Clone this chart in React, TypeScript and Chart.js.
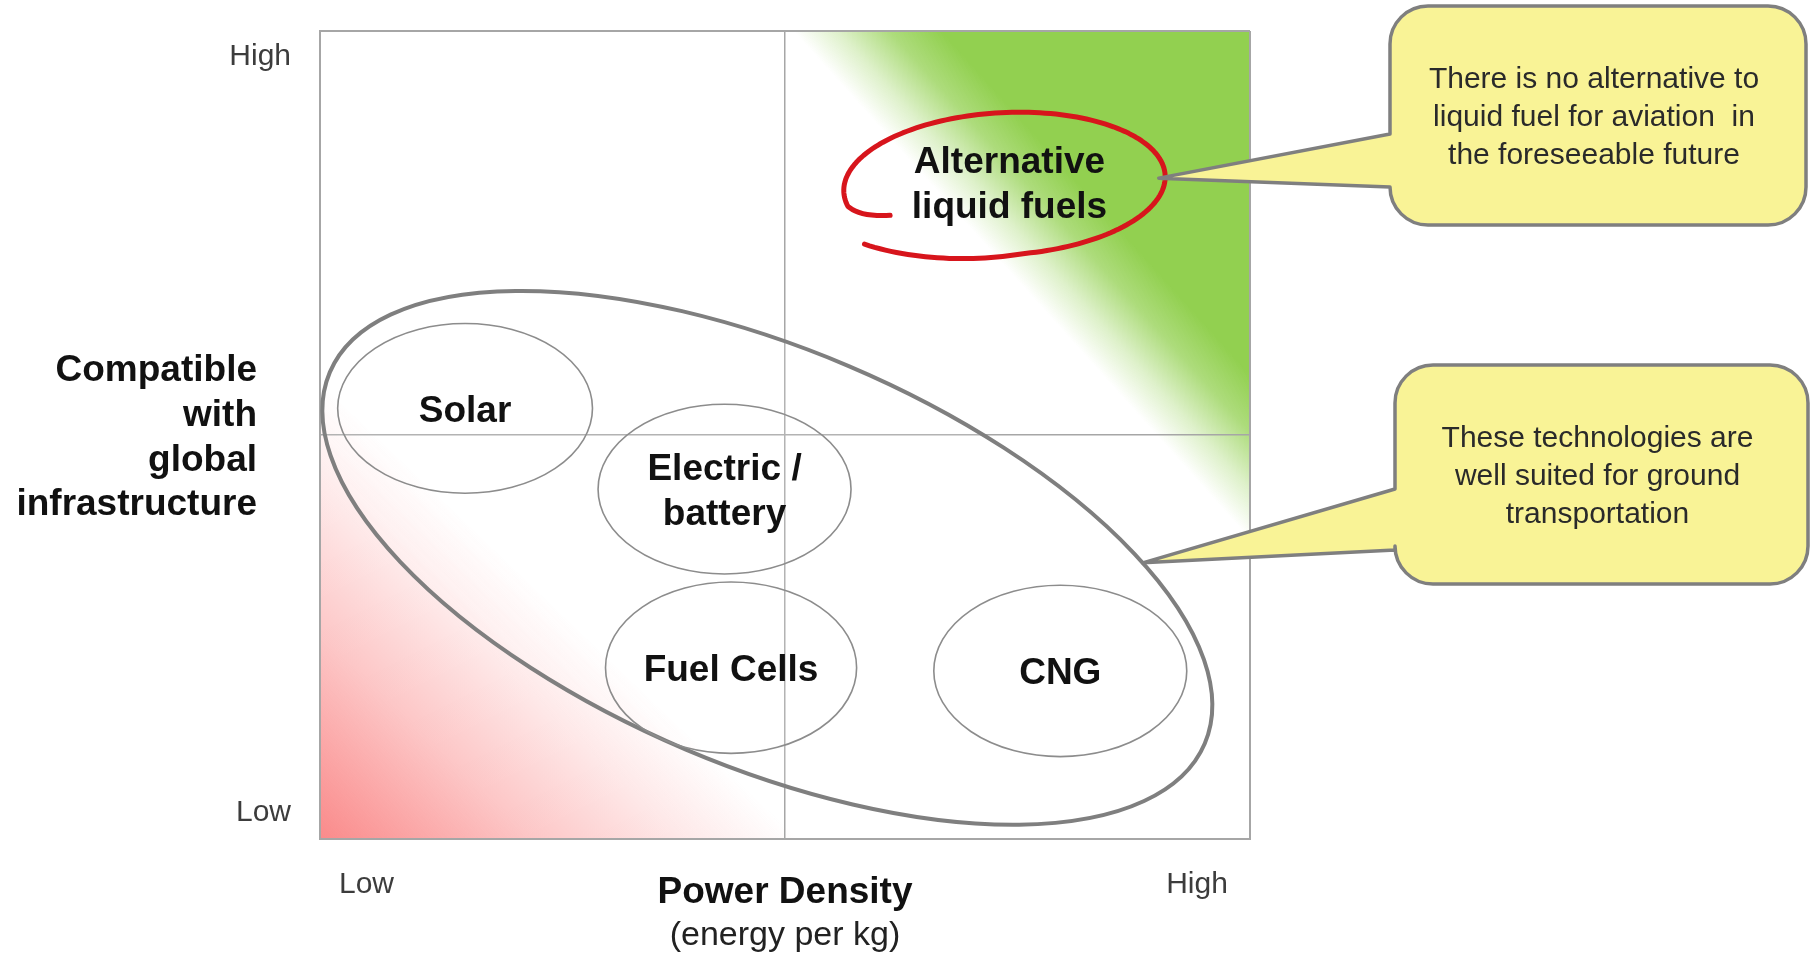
import React, { useEffect, useRef } from "react";
import { Chart, registerables } from "chart.js";

Chart.register(...registerables);

// ---------------- data ----------------
const X_TICK_VALUES = [0, 0.5, 5, 9.43, 10];
const X_TICK_LABELS = ["", "Low", "", "High", ""];
const Y_TICK_VALUES = [0, 0.32, 5, 9.68, 10];
const Y_TICK_LABELS = ["", "Low", "", "High", ""];
const QUADRANT_LINES = [0, 5, 10];

const X_TITLE = "Power Density";
const X_SUBTITLE = "(energy per kg)";
const Y_TITLE = ["Compatible", "with", "global", "infrastructure"];

const TECH_LABELS = [["Solar"], ["Electric /", "battery"], ["Fuel Cells"], ["CNG"]];
const TECH_X = [1.56, 4.35, 4.42, 7.96];
const TECH_Y = [5.33, 4.33, 2.12, 2.08];
const TECH_RX = [1.37, 1.36, 1.35, 1.36];
const TECH_RY = [1.05, 1.05, 1.06, 1.06];

const FOCUS_LABEL = ["Alternative", "liquid fuels"];
const FOCUS_X = [7.36];
const FOCUS_Y = [8.11];
const FOCUS_RX = [1.73];
const FOCUS_RY = [0.88];

const GROUP_X = [4.81];
const GROUP_Y = [3.48];
const GROUP_A = [5.11];
const GROUP_B = [2.24];
const GROUP_TILT_DEG = [23];

const CALLOUT_TEXTS = [
  ["There is no alternative to", "liquid fuel for aviation  in", "the foreseeable future"],
  ["These technologies are", "well suited for ground", "transportation"],
];

// ---------------- styles / layout ----------------
const FONT = '"Liberation Sans", Arial, Helvetica, sans-serif';
const BG = {
  pink: { from: [0, 5.68], to: [-2.47, 2.71], rgb: "250,138,138" },
  green: { from: [5.09, 10.0], to: [5.97, 10.91], rgb: "146,208,80" },
};
const CALLOUT_BOXES = [
  { left: 1390, top: 6, w: 416, h: 219, r: 38, baseTop: 134, baseBottom: 187 },
  { left: 1395, top: 365, w: 413, h: 219, r: 38, baseTop: 489, baseBottom: 550 },
];

function drawLabel(ctx: CanvasRenderingContext2D, lines: string[], x: number, cy: number, size: number, weight: string, color: string, lineH: number, align: CanvasTextAlign = "center") {
  ctx.save();
  ctx.font = `${weight} ${size}px ${FONT}`;
  ctx.fillStyle = color;
  ctx.textAlign = align;
  ctx.textBaseline = "alphabetic";
  const n = lines.length;
  lines.forEach((s, i) => {
    const c = cy + (i - (n - 1) / 2) * lineH;
    ctx.fillText(s, x, c + size * 0.358);
  });
  ctx.restore();
}

const artPlugin = {
  id: "quadrantArt",
  beforeDraw(chart: any) {
    const { ctx, chartArea: ca, scales } = chart;
    const xs = scales.x, ys = scales.y;
    ctx.save();
    ctx.beginPath();
    ctx.rect(ca.left, ca.top, ca.right - ca.left, ca.bottom - ca.top);
    ctx.clip();
    // pink gradient (low / low corner)
    const p = BG.pink;
    const gp = ctx.createLinearGradient(
      xs.getPixelForValue(p.from[0]), ys.getPixelForValue(p.from[1]),
      xs.getPixelForValue(p.to[0]), ys.getPixelForValue(p.to[1]));
    gp.addColorStop(0, `rgba(${p.rgb},0)`);
    gp.addColorStop(0.25, `rgba(${p.rgb},0.2)`);
    gp.addColorStop(0.55, `rgba(${p.rgb},0.48)`);
    gp.addColorStop(1, `rgba(${p.rgb},1)`);
    ctx.fillStyle = gp;
    ctx.fillRect(ca.left, ca.top, ca.right - ca.left, ca.bottom - ca.top);
    // green gradient (high / high corner)
    const g = BG.green;
    const gg = ctx.createLinearGradient(
      xs.getPixelForValue(g.from[0]), ys.getPixelForValue(g.from[1]),
      xs.getPixelForValue(g.to[0]), ys.getPixelForValue(g.to[1]));
    gg.addColorStop(0, `rgba(${g.rgb},0)`);
    gg.addColorStop(0.3, `rgba(${g.rgb},0.3)`);
    gg.addColorStop(0.65, `rgba(${g.rgb},0.75)`);
    gg.addColorStop(1, `rgba(${g.rgb},1)`);
    ctx.fillStyle = gg;
    const mid = xs.getPixelForValue(5);
    ctx.fillRect(mid, ca.top, ca.right - mid, ca.bottom - ca.top);
    ctx.restore();
  },
  afterDatasetsDraw(chart: any) {
    const { ctx, scales } = chart;
    const xs = scales.x, ys = scales.y;
    const ux = xs.getPixelForValue(1) - xs.getPixelForValue(0);
    const uy = ys.getPixelForValue(0) - ys.getPixelForValue(1);

    // big group ellipse
    const gm = chart.getDatasetMeta(2).data[0];
    ctx.save();
    ctx.beginPath();
    ctx.ellipse(gm.x, gm.y, GROUP_A[0] * ux, GROUP_B[0] * ux, (GROUP_TILT_DEG[0] * Math.PI) / 180, 0, Math.PI * 2);
    ctx.fillStyle = "rgba(255,255,255,0.15)";
    ctx.fill();
    ctx.strokeStyle = "#7f7f7f";
    ctx.lineWidth = 4;
    ctx.stroke();
    ctx.restore();

    // technology ellipses
    const tm = chart.getDatasetMeta(0).data;
    tm.forEach((el: any, i: number) => {
      ctx.save();
      ctx.beginPath();
      ctx.ellipse(el.x, el.y, TECH_RX[i] * ux, TECH_RY[i] * uy, 0, 0, Math.PI * 2);
      ctx.strokeStyle = "#8c8c8c";
      ctx.lineWidth = 1.6;
      ctx.stroke();
      ctx.restore();
      drawLabel(ctx, TECH_LABELS[i], el.x, el.y, 37, "bold", "#111", 45);
    });

    // focus: hand drawn red loop
    const fm = chart.getDatasetMeta(1).data[0];
    const rx = FOCUS_RX[0] * ux, ry = FOCUS_RY[0] * uy;
    ctx.save();
    ctx.translate(fm.x, fm.y);
    ctx.rotate((-3 * Math.PI) / 180);
    ctx.beginPath();
    ctx.moveTo(-0.72 * rx, 0.36 * ry);
    ctx.quadraticCurveTo(-0.9 * rx, 0.36 * ry, -0.97 * rx, 0.22 * ry);
    for (let deg = 168; deg <= 500; deg += 2) {
      const f = deg > 445 ? 1 + ((deg - 445) / 55) * 0.16 : 1;
      const a = (deg * Math.PI) / 180;
      ctx.lineTo(rx * f * Math.cos(a), ry * f * Math.sin(a));
    }
    ctx.strokeStyle = "#d7151c";
    ctx.lineWidth = 5;
    ctx.lineCap = "round";
    ctx.lineJoin = "round";
    ctx.stroke();
    ctx.restore();
    drawLabel(ctx, FOCUS_LABEL, fm.x + 5, fm.y - 1, 37, "bold", "#111", 45);
  },
  afterDraw(chart: any) {
    const { ctx, chartArea: ca, scales } = chart;
    const xs = scales.x, ys = scales.y;
    const ux = xs.getPixelForValue(1) - xs.getPixelForValue(0);
    const uy = ys.getPixelForValue(0) - ys.getPixelForValue(1);
    const cxMid = (ca.left + ca.right) / 2;
    const cyMid = (ca.top + ca.bottom) / 2;

    // axis titles
    drawLabel(ctx, [X_TITLE], cxMid, ca.bottom + 51, 37, "bold", "#111", 45);
    drawLabel(ctx, [X_SUBTITLE], cxMid, ca.bottom + 94, 34, "normal", "#222", 45);
    drawLabel(ctx, Y_TITLE, ca.left - 63, cyMid, 37, "bold", "#111", 44.7, "right");

    // anchors
    const fm = chart.getDatasetMeta(1).data[0];
    const fa = (-3 * Math.PI) / 180;
    const tip1 = { x: fm.x + FOCUS_RX[0] * ux * 0.96 * Math.cos(fa), y: fm.y + FOCUS_RY[0] * uy * 0.96 * Math.sin(fa) - 2 };
    const gm = chart.getDatasetMeta(2).data[0];
    const th = (GROUP_TILT_DEG[0] * Math.PI) / 180;
    const t = (-43 * Math.PI) / 180;
    const ga = GROUP_A[0] * ux, gb = GROUP_B[0] * ux;
    const xp = ga * Math.cos(t), yp = gb * Math.sin(t);
    const tip2 = { x: gm.x + xp * Math.cos(th) - yp * Math.sin(th), y: gm.y + xp * Math.sin(th) + yp * Math.cos(th) };
    const tips = [tip1, tip2];

    CALLOUT_BOXES.forEach((b, i) => {
      const { left: x, top: y, w, h, r } = b;
      const tip = tips[i];
      ctx.save();
      ctx.beginPath();
      ctx.moveTo(x + r, y);
      ctx.lineTo(x + w - r, y);
      ctx.arcTo(x + w, y, x + w, y + r, r);
      ctx.lineTo(x + w, y + h - r);
      ctx.arcTo(x + w, y + h, x + w - r, y + h, r);
      ctx.lineTo(x + r, y + h);
      ctx.arcTo(x, y + h, x, y + h - r, r);
      ctx.lineTo(x, b.baseBottom);
      ctx.lineTo(tip.x, tip.y);
      ctx.lineTo(x, b.baseTop);
      ctx.lineTo(x, y + r);
      ctx.arcTo(x, y, x + r, y, r);
      ctx.closePath();
      ctx.fillStyle = "rgb(249,243,150)";
      ctx.fill();
      ctx.strokeStyle = "#7f7f7f";
      ctx.lineWidth = 3.5;
      ctx.lineJoin = "round";
      ctx.stroke();
      ctx.restore();
      drawLabel(ctx, CALLOUT_TEXTS[i], x + w / 2 - 4, y + h / 2, 30, "normal", "#2a2a2a", 38);
    });
  },
};

function tickLabel(values: number[], labels: string[]) {
  return (v: any) => {
    const s = labels[values.indexOf(Number(v))];
    return s ? s : [];
  };
}

export default function App() {
  const ref = useRef<HTMLCanvasElement>(null);
  useEffect(() => {
    const canvas = ref.current;
    if (!canvas) return;
    const tickFont = { family: FONT, size: 30, weight: "normal" as const };
    const gridColor = (c: any) => (QUADRANT_LINES.includes(c.tick?.value) ? "#a6a6a6" : "rgba(0,0,0,0)");
    const chart = new Chart(canvas, {
      type: "scatter",
      data: {
        datasets: [
          { label: "Technologies", data: TECH_X.map((x, i) => ({ x, y: TECH_Y[i] })), pointRadius: 0 },
          { label: "Aviation", data: FOCUS_X.map((x, i) => ({ x, y: FOCUS_Y[i] })), pointRadius: 0 },
          { label: "Ground transportation", data: GROUP_X.map((x, i) => ({ x, y: GROUP_Y[i] })), pointRadius: 0 },
        ],
      },
      options: {
        responsive: false,
        animation: false,
        events: [],
        layout: { padding: { left: 0, top: 31, right: 562, bottom: 0 } },
        plugins: { legend: { display: false }, tooltip: { enabled: false } },
        scales: {
          x: {
            type: "linear",
            min: 0,
            max: 10,
            afterBuildTicks: (s: any) => { s.ticks = X_TICK_VALUES.map((v) => ({ value: v })); },
            afterFit: (s: any) => { s.height = 119; },
            ticks: {
              autoSkip: false,
              maxRotation: 0,
              padding: 28,
              font: tickFont,
              color: "#3c3c3c",
              callback: tickLabel(X_TICK_VALUES, X_TICK_LABELS),
            },
            grid: { drawTicks: false, color: gridColor, lineWidth: (c: any) => (c.tick?.value === 5 ? 1.5 : 2) },
            border: { display: true, color: "#a6a6a6", width: 2 },
          },
          y: {
            type: "linear",
            min: 0,
            max: 10,
            afterBuildTicks: (s: any) => { s.ticks = Y_TICK_VALUES.map((v) => ({ value: v })); },
            afterFit: (s: any) => { s.width = 320; },
            ticks: {
              autoSkip: false,
              padding: 29,
              font: tickFont,
              color: "#3c3c3c",
              callback: tickLabel(Y_TICK_VALUES, Y_TICK_LABELS),
            },
            grid: { drawTicks: false, color: gridColor, lineWidth: (c: any) => (c.tick?.value === 5 ? 1.5 : 2) },
            border: { display: true, color: "#a6a6a6", width: 2 },
          },
        },
      },
      plugins: [artPlugin],
    } as any);
    return () => chart.destroy();
  }, []);
  return (
    <div style={{ position: "absolute", left: 0, top: 0, width: 1812, height: 958, background: "#fff" }}>
      <canvas ref={ref} width={1812} height={958} style={{ display: "block", width: 1812, height: 958 }} />
    </div>
  );
}
